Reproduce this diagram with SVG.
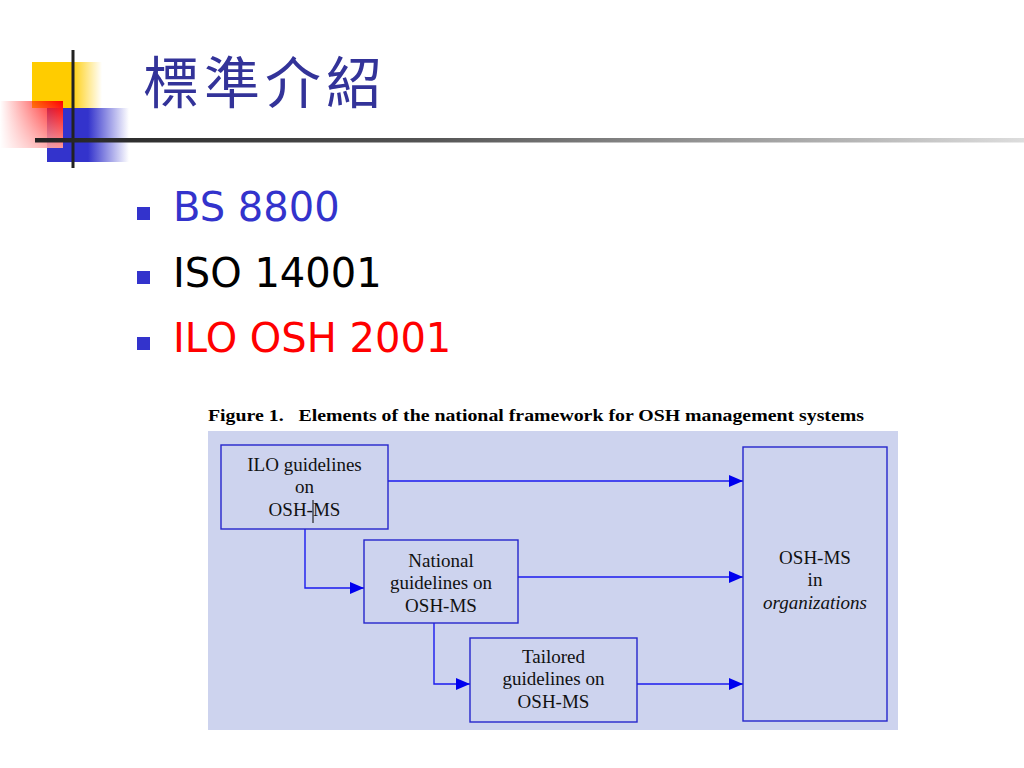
<svg xmlns="http://www.w3.org/2000/svg" width="1024" height="768" viewBox="0 0 1024 768">
<defs>
<linearGradient id="gYellow" x1="0" y1="0" x2="1" y2="0"><stop offset="0" stop-color="#FFCC00"/><stop offset="0.55" stop-color="#FFCC00"/><stop offset="1" stop-color="#FFCC00" stop-opacity="0"/></linearGradient>
<linearGradient id="gRed" x1="0" y1="0" x2="1" y2="0"><stop offset="0" stop-color="#FF0000" stop-opacity="0"/><stop offset="1" stop-color="#FF0000"/></linearGradient>
<linearGradient id="gRedV" x1="0" y1="0" x2="0" y2="1"><stop offset="0" stop-color="#FFFFFF" stop-opacity="0"/><stop offset="1" stop-color="#FFFFFF" stop-opacity="0.6"/></linearGradient>
<linearGradient id="gBlue" x1="0" y1="0" x2="1" y2="0"><stop offset="0" stop-color="#3333CC"/><stop offset="0.5" stop-color="#3333CC"/><stop offset="1" stop-color="#3333CC" stop-opacity="0"/></linearGradient>
<linearGradient id="gLine" x1="0" y1="0" x2="1" y2="0"><stop offset="0" stop-color="#222222"/><stop offset="0.4" stop-color="#555555"/><stop offset="1" stop-color="#DDDDDD"/></linearGradient>
<marker id="arr" markerUnits="userSpaceOnUse" markerWidth="14" markerHeight="12" refX="14" refY="6" orient="auto"><path d="M0,0 L14,6 L0,12 Z" fill="#0000EE"/></marker>
<style>
.bul{fill:#3333CC}
.item{font-family:"DejaVu Sans",Verdana,sans-serif;font-size:40px}
.box{fill:none;stroke:#2626CC;stroke-width:1.4}
.bt{font-family:"Liberation Serif","Times New Roman",serif;font-size:19px;fill:#111111;text-anchor:middle}
.con{fill:none;stroke:#1A1AEE;stroke-width:1.4}
</style>
</defs>
<rect width="1024" height="768" fill="#FFFFFF"/>
<g id="decoration">
<rect x="32" y="62" width="70" height="46" fill="url(#gYellow)"/>
<rect x="47" y="108" width="82" height="54" fill="url(#gBlue)"/>
<rect x="0" y="101" width="63" height="47" fill="url(#gRed)"/>
<rect x="0" y="101" width="63" height="47" fill="url(#gRedV)"/>
<rect x="71.5" y="50" width="3" height="118" fill="#222222"/>
<rect x="35" y="138" width="989" height="4.5" fill="url(#gLine)"/>
</g>
<g id="title">
<text x="143" y="103" font-family="'Noto Sans CJK TC','Noto Sans CJK SC',sans-serif" font-size="56" letter-spacing="5" fill="#333399">標準介紹</text>
</g>
<g id="bullets">
<rect class="bul" x="137" y="207" width="13" height="13"/>
<text class="item" x="173" y="221" fill="#3333CC">BS 8800</text>
<rect class="bul" x="137" y="271" width="13" height="13"/>
<text class="item" x="173" y="287" fill="#000000">ISO 14001</text>
<rect class="bul" x="137" y="337" width="13" height="13"/>
<text class="item" x="173" y="352" fill="#FF0000">ILO OSH 2001</text>
</g>
<g id="figure">
<text x="208" y="421" font-family="'Liberation Serif','Times New Roman',serif" font-size="16" font-weight="bold" fill="#000000" textLength="656" lengthAdjust="spacingAndGlyphs" xml:space="preserve">Figure 1.   Elements of the national framework for OSH management systems</text>
<rect x="208" y="431" width="690" height="299" fill="#CDD3EE"/>
</g>
<g id="connectors">
<line class="con" x1="388" y1="481" x2="743" y2="481" marker-end="url(#arr)"/>
<line class="con" x1="518" y1="577" x2="743" y2="577" marker-end="url(#arr)"/>
<line class="con" x1="637" y1="684" x2="743" y2="684" marker-end="url(#arr)"/>
<polyline class="con" points="305,529 305,588 364,588" marker-end="url(#arr)"/>
<polyline class="con" points="434,623 434,684 470,684" marker-end="url(#arr)"/>
</g>
<g id="node-ilo">
<rect class="box" x="221" y="445" width="167" height="84"/>
<text class="bt" x="304.5" y="471">ILO guidelines</text>
<text class="bt" x="304.5" y="493">on</text>
<text class="bt" x="304.5" y="516">OSH-MS</text>
<line x1="313" y1="500" x2="313" y2="523" stroke="#000000" stroke-width="1"/>
</g>
<g id="node-national">
<rect class="box" x="364" y="540" width="154" height="83"/>
<text class="bt" x="441" y="567">National</text>
<text class="bt" x="441" y="589">guidelines on</text>
<text class="bt" x="441" y="612">OSH-MS</text>
</g>
<g id="node-tailored">
<rect class="box" x="470" y="638" width="167" height="84"/>
<text class="bt" x="553.5" y="663">Tailored</text>
<text class="bt" x="553.5" y="685">guidelines on</text>
<text class="bt" x="553.5" y="708">OSH-MS</text>
</g>
<g id="node-org">
<rect class="box" x="743" y="447" width="144" height="274"/>
<text class="bt" x="815" y="564">OSH-MS</text>
<text class="bt" x="815" y="586">in</text>
<text class="bt" x="815" y="609" font-style="italic">organizations</text>
</g>
</svg>
